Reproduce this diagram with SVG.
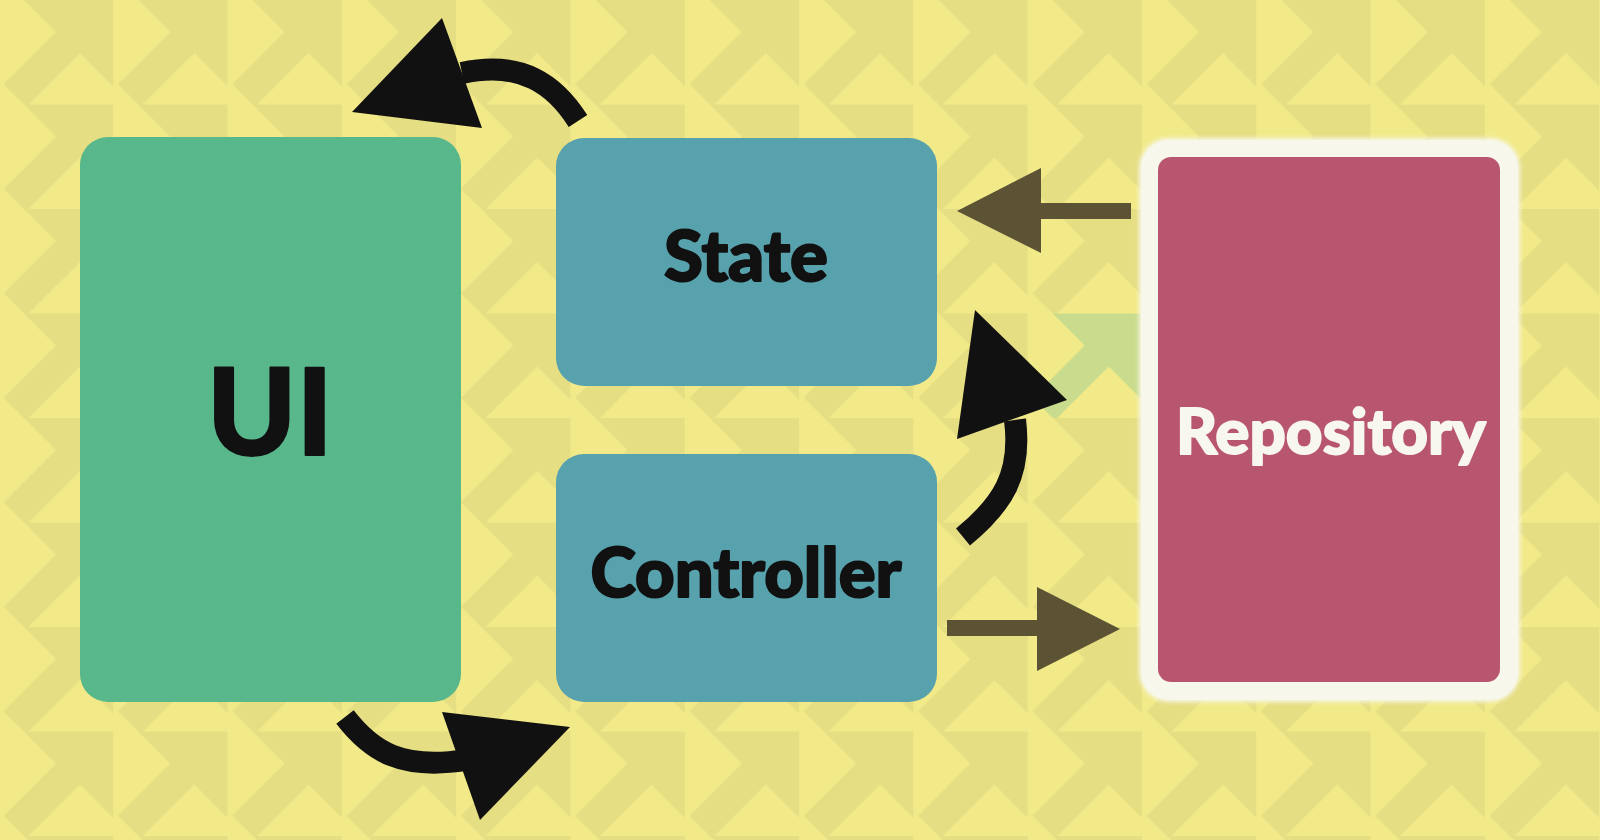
<svg xmlns="http://www.w3.org/2000/svg" width="1600" height="840" viewBox="0 0 1600 840">
<defs>
<style>
.lbl{font-family:Lato,"Open Sans","Liberation Sans",sans-serif;font-weight:900;text-anchor:middle;stroke-linejoin:round}
.dark{fill:#111111;stroke:#111111;stroke-width:2}
.light{fill:#f8f7ef;stroke:#f8f7ef;stroke-width:1.8}
.curve{fill:none;stroke:#111111;stroke-width:22}
.head{fill:#111111}
.olive{fill:#5b5334}
.lt{fill:#f2ea89}
</style>
<pattern id="bg" patternUnits="userSpaceOnUse" x="-1" y="0" width="114.3" height="104.5">
<rect width="114.3" height="104.5" fill="#e6de83"/>
<polygon class="lt" points="0,-25 57,32 0,89"/>
<polygon class="lt" points="0,79.5 57,136.5 0,193.5"/>
<polygon class="lt" points="29.5,104.5 81,53 132.5,104.5"/>
<polygon class="lt" points="-84.8,104.5 -33.3,53 18.2,104.5"/>
</pattern>
<pattern id="bgGreen" patternUnits="userSpaceOnUse" x="-1" y="0" width="114.3" height="104.5">
<rect width="114.3" height="104.5" fill="#c9dc8d"/>
<polygon class="lt" points="0,-25 57,32 0,89"/>
<polygon class="lt" points="0,79.5 57,136.5 0,193.5"/>
<polygon class="lt" points="29.5,104.5 81,53 132.5,104.5"/>
<polygon class="lt" points="-84.8,104.5 -33.3,53 18.2,104.5"/>
</pattern>
<filter id="glow" x="-10%" y="-10%" width="120%" height="120%">
<feGaussianBlur stdDeviation="2"/>
</filter>
</defs>
<rect width="1600" height="840" fill="url(#bg)"/>
<rect x="1040" y="313.5" width="100" height="104.5" fill="url(#bgGreen)"/>

<g id="ui">
<rect x="80" y="137" width="381" height="565" rx="28" fill="#58b78b"/>
<text class="lbl dark" x="270" y="455" font-size="120">UI</text>
</g>

<g id="state">
<rect x="556" y="138" width="381" height="248" rx="28" fill="#58a2ae"/>
<text class="lbl dark" x="746" y="281" font-size="70" textLength="164" lengthAdjust="spacingAndGlyphs">State</text>
</g>

<g id="controller">
<rect x="556" y="454" width="381" height="248" rx="28" fill="#58a2ae"/>
<text class="lbl dark" x="746" y="597" font-size="68" textLength="311" lengthAdjust="spacingAndGlyphs">Controller</text>
</g>

<g id="repository">
<rect x="1139" y="138" width="381" height="564" rx="30" fill="#f7f6e6" filter="url(#glow)"/>
<rect x="1141" y="140" width="377" height="560" rx="28" fill="#f8f7ec"/>
<rect x="1158" y="157" width="342" height="525" rx="13" fill="#b9566f"/>
<text class="lbl light" x="1331" y="454" font-size="63" textLength="310" lengthAdjust="spacingAndGlyphs">Repository</text>
</g>

<g id="connectors">
<path class="curve" d="M 578,121 C 555,85 522,60 462,73"/>
<polygon class="head" points="442,18 352,112 482,128"/>
<path class="curve" d="M 345,717 C 372,752 402,770 466,760"/>
<polygon class="head" points="442,712 570,727 480,820"/>
<path class="curve" d="M 963,537 C 1002,505 1022,475 1015,420"/>
<polygon class="head" points="975,310 957,439 1067,400"/>
<rect class="olive" x="1035" y="203" width="96" height="16"/>
<polygon class="olive" points="957,211 1041,168 1041,253"/>
<rect class="olive" x="947" y="620" width="95" height="16"/>
<polygon class="olive" points="1120,629 1037,587 1037,671"/>
</g>
</svg>
